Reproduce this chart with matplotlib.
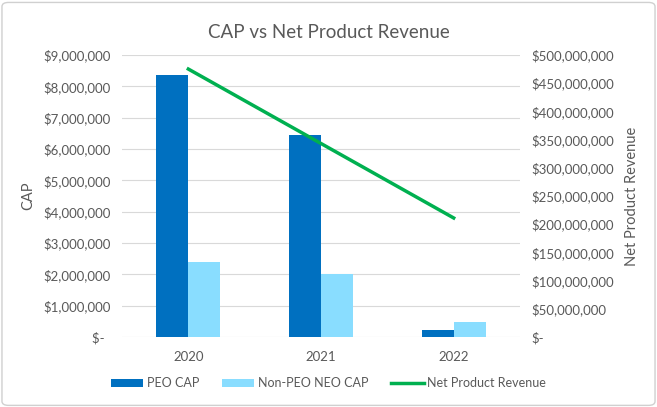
import matplotlib
matplotlib.use("Agg")
import matplotlib.pyplot as plt
from matplotlib.patches import FancyBboxPatch
import numpy as np

years = ["2020", "2021", "2022"]
peo_cap = [8360000, 6450000, 220000]
non_peo_cap = [2390000, 2010000, 480000]
net_revenue = [475000000, 343000000, 211000000]

left_ticks = list(range(0, 9000001, 1000000))
right_ticks = list(range(0, 500000001, 50000000))

plt.rcParams['font.family'] = ['Lato', 'DejaVu Sans']
grey = '#595959'

fig = plt.figure(figsize=(6.57, 4.07), dpi=100)
fig.patch.set_facecolor('white')
fig.patches.append(FancyBboxPatch((0.003, 0.004), 0.994, 0.99, boxstyle="round,pad=0,rounding_size=0.01",
                                  transform=fig.transFigure, fill=False, edgecolor='#d0d0d0', linewidth=1))

ax = fig.add_axes([0.1857, 0.172, 0.6058, 0.693])
x = np.arange(len(years))
w = 0.24
ax.bar(x - w/2, peo_cap, w, color='#0070C0', label='PEO CAP', zorder=3)
ax.bar(x + w/2, non_peo_cap, w, color='#89DDFF', label='Non-PEO NEO CAP', zorder=3)
ax.set_xlim(-0.5, 2.5)
ax.set_ylim(0, 9000000)
ax.set_yticks(left_ticks)
ax.set_yticklabels(["$-  " if v == 0 else "${:,.0f}".format(v) for v in left_ticks])
ax.set_xticks(x)
ax.set_xticklabels(years)
ax.grid(axis='y', color='#d9d9d9', linewidth=0.8, zorder=0)
for s in ax.spines.values():
    s.set_visible(False)
ax.tick_params(length=0, colors=grey, labelsize=9.5, pad=8)
ax.tick_params(axis='x', pad=10)
ax.set_ylabel('CAP', color=grey, fontsize=10.5, labelpad=6)

ax2 = ax.twinx()
ax2.plot(x, net_revenue, color='#00B050', linewidth=2.5, label='Net Product Revenue', zorder=4)
ax2.set_ylim(0, 500000000)
ax2.set_yticks(right_ticks)
ax2.set_yticklabels(["$-" if v == 0 else "${:,.0f}".format(v) for v in right_ticks], ha='left')
for s in ax2.spines.values():
    s.set_visible(False)
ax2.tick_params(length=0, colors=grey, labelsize=9.5, pad=8)
ax2.set_ylabel('Net Product Revenue', color=grey, fontsize=10.5, labelpad=8)

fig.text(0.5, 0.921, 'CAP vs Net Product Revenue', ha='center', va='center', color=grey, fontsize=13.5)

h1, l1 = ax.get_legend_handles_labels()
h2, l2 = ax2.get_legend_handles_labels()
fig.legend(h1 + h2, l1 + l2, loc='center', bbox_to_anchor=(0.5, 0.058), ncol=3, frameon=False,
           fontsize=9, labelcolor=grey, handlelength=2.6, handleheight=0.6, handletextpad=0.3,
           columnspacing=1.8)

fig.savefig('out.png', dpi=100, facecolor='white')
